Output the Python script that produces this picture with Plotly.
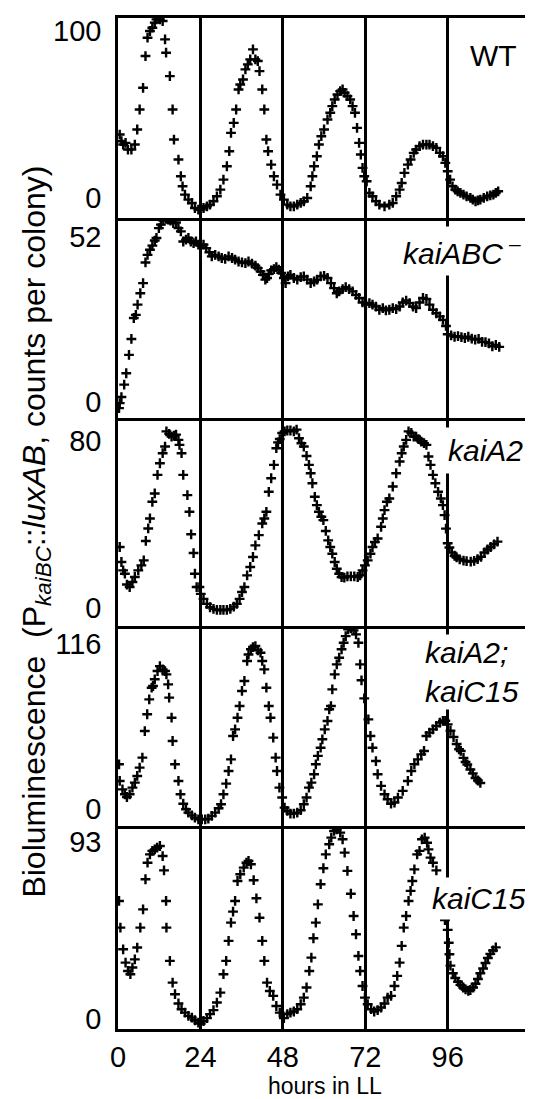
import plotly.graph_objects as go

# ---------------- data (hours in LL, bioluminescence counts per colony) ----------------
wt_h = [0.5,1.0,1.5,2.2,2.9,3.9,4.9,5.6,6.3,7.3,
        8.0,8.6,9.3,10.0,10.7,11.2,12.2,13.0,13.7,14.0,
        15.1,15.9,16.3,17.6,18.3,18.8,19.5,20.5,21.5,22.4,
        23.4,24.1,24.9,25.9,26.8,27.8,28.8,29.8,30.7,31.7,
        32.4,32.9,33.7,34.4,35.1,35.6,36.4,37.1,37.8,38.5,
        39.3,40.0,40.7,41.2,42.0,42.6,43.2,43.7,44.6,45.4,
        46.3,47.3,48.3,49.3,50.2,51.2,52.2,53.2,54.1,55.1,
        56.1,56.6,57.1,57.9,58.5,59.2,60.0,61.0,61.8,62.4,
        63.1,63.9,64.7,65.4,66.0,66.8,67.6,68.3,69.0,69.6,
        70.2,70.7,71.2,71.7,72.4,73.2,74.1,75.1,76.1,77.6,
        79.0,80.0,81.0,82.0,82.6,83.4,84.4,85.2,86.1,86.8,
        87.8,88.8,89.8,90.7,91.7,92.7,93.7,94.6,95.3,96.0,
        96.7,97.4,98.2,98.9,99.7,100.6,101.5,102.6,103.3,104.1,
        104.8,105.5,106.5,107.5,108.4,109.3,110.0,110.7]
wt_v = [38,34,32,33,29,29,32,41,53,66,
        85,96,100,102,105,107,107,106,95,87,
        73,53,35,23,13,7,2,-1,-3,-6,
        -7,-7,-6,-5,-4,-2,1,5,11,19,
        28,39,45,53,65,68,71,77,80,83,
        89,83,82,76,65,53,35,28,20,13,
        8,2,-1,-4,-5,-5,-4,-3,-2,0,
        7,13,19,25,32,37,41,47,51,55,
        59,62,64,65,63,61,59,55,51,42,
        33,26,18,13,10,3,1,-2,-4,-5,
        -4,-3,1,5,9,15,20,23,27,29,
        31,32,32,32,31,30,27,25,21,16,
        11,7,5,4,3,2,1,0,-1,-2,
        -1.5,-1,0,1,1.5,2,3,4]

kabc_h = [0.3,0.5,1.0,1.8,2.4,3.2,3.9,4.6,5.2,5.7,
          6.5,7.3,8.0,8.6,9.3,10.0,10.7,11.2,11.9,12.5,
          13.2,14.0,14.6,15.3,16.1,16.9,17.6,18.3,19.0,19.8,
          20.5,21.2,22.0,22.7,23.4,24.1,24.9,25.7,26.6,27.3,
          28.3,29.3,30.2,31.2,32.2,33.2,34.1,35.1,36.1,37.1,
          38.0,39.0,40.0,40.7,41.5,42.2,42.9,43.4,43.9,44.6,
          45.4,46.1,46.8,47.5,48.3,48.8,49.5,50.2,51.2,52.2,
          53.2,54.1,55.1,56.1,57.1,58.0,59.0,60.0,61.0,62.0,
          62.9,63.7,64.4,65.4,66.3,67.3,68.3,69.3,70.2,71.2,
          72.2,73.2,74.1,75.1,76.1,77.1,78.0,79.0,80.0,81.0,
          82.0,82.9,83.9,84.9,85.9,86.8,87.8,88.8,89.8,90.7,
          91.7,92.7,93.7,94.6,
          95.5,96.0,97.0,98.0,99.0,100.0,
          101.0,102.0,103.0,104.0,105.0,106.0,107.0,108.0,109.0,110.0,
          111.0]
kabc_v = [-1.9,-0.3,1.6,5.5,9.1,14.9,19.9,26.5,27.5,30.7,
          34.3,37.5,44.0,46.4,48.0,49.3,50.9,51.7,54.8,55.9,
          57.2,57.7,57.5,57.2,56.4,56.6,54.8,53.8,50.6,51.2,
          51.7,50.6,50.1,50.6,49.6,49.3,49.6,48.5,47.2,45.9,
          46.4,45.9,45.4,45.1,45.9,45.4,44.9,44.3,44.0,43.8,
          44.3,43.6,43.0,42.2,41.2,40.1,38.6,39.1,40.4,41.5,
          41.9,42.5,41.7,40.7,39.1,37.5,39.6,40.1,39.1,38.6,
          39.4,39.6,38.6,37.5,38.0,38.6,39.6,39.8,39.1,37.5,
          35.9,34.3,34.9,35.6,36.2,35.6,34.9,33.8,32.8,31.4,
          30.7,31.2,30.7,30.1,29.1,29.6,28.9,29.1,29.6,29.3,
          30.1,31.4,32.0,31.2,30.1,29.6,31.4,32.8,32.5,30.7,
          29.1,28.0,27.0,25.9,
          24.0,21.4,21.0,20.6,20.8,20.5,
          20.2,20.6,20.0,19.7,19.9,19.0,18.9,18.5,17.6,18.0,
          17.4]

ka2_h = [0.5,1.0,1.5,2.0,2.6,3.4,4.2,4.9,5.9,6.8,
         7.5,8.1,8.8,9.3,10.0,10.7,11.5,12.2,13.0,13.7,
         14.1,14.9,15.6,16.3,16.9,17.6,17.9,18.5,19.0,20.2,
         20.8,21.3,22.0,22.4,22.9,23.7,24.1,24.9,25.9,26.8,
         27.8,28.8,29.8,30.7,31.7,32.7,33.7,34.6,35.4,36.1,
         36.8,37.6,38.5,39.3,40.0,41.0,42.0,42.6,43.2,43.9,
         44.6,45.4,46.1,46.6,47.1,47.8,48.5,49.3,50.2,51.2,
         52.0,52.7,53.4,54.1,54.9,55.6,56.1,56.6,57.3,57.9,
         58.5,59.2,59.8,60.5,61.2,61.8,62.4,63.1,63.7,64.4,
         65.1,65.9,66.8,67.8,68.8,69.8,70.5,71.2,71.9,72.7,
         73.5,74.1,74.8,75.6,76.6,77.1,77.6,78.3,79.0,80.0,
         81.0,82.0,82.6,83.2,83.9,84.6,85.4,86.1,86.8,87.5,
         88.3,89.1,89.8,90.4,91.0,91.7,92.4,93.2,94.0,94.6,
         95.1,
         95.5,96.0,96.5,97.2,98.0,98.6,99.5,100.6,101.5,102.7,
         103.7,104.7,105.7,106.7,107.6,108.5,109.5,110.5]
ka2_v = [29.2,22.0,18.0,16.4,11.2,10.0,12.4,14.8,18.0,20.4,
         22.8,32.1,38.1,42.9,50.9,54.9,63.8,69.4,74.2,77.4,
         84.7,83.5,82.2,82.6,83.1,80.6,78.2,74.2,63.8,54.1,
         46.1,35.3,26.3,16.4,10.0,10.0,6.7,4.3,1.9,0.3,
         -0.5,-1.0,-1.0,-1.0,-1.0,-0.5,0.6,1.9,4.3,7.6,
         10.0,15.6,19.6,24.4,30.0,34.9,40.5,42.9,46.1,55.7,
         62.2,68.6,76.6,79.4,81.0,83.9,84.7,85.1,85.1,84.7,
         85.5,81.4,79.0,77.4,72.9,68.6,64.6,59.8,53.3,49.3,
         46.1,43.7,42.1,36.9,32.4,29.2,26.0,22.0,18.8,16.4,
         14.8,14.5,15.1,15.1,15.1,14.8,15.6,18.0,20.4,22.8,
         26.0,29.2,31.6,33.3,38.9,42.9,46.9,50.9,52.5,58.2,
         64.6,70.2,74.2,77.4,80.6,84.7,83.9,82.2,82.2,81.0,
         79.8,79.0,78.2,72.6,68.6,63.8,59.8,55.7,52.5,49.3,
         44.5,
         38,31,29,26.5,25,24.2,23.3,22.7,22.4,22.2,
         22.5,23.4,24.5,26.6,28,29.2,30.5,31.8]

ka2c15_h = [0.3,0.5,1.3,2.0,2.6,3.4,4.2,4.9,5.6,6.3,
            7.1,7.8,8.5,9.1,9.8,10.2,10.7,11.5,12.2,13.0,
            13.7,14.1,14.6,14.9,15.6,15.9,16.6,17.6,18.2,19.0,
            19.8,20.5,21.5,22.4,23.4,24.4,25.4,26.3,27.3,28.3,
            29.3,30.0,30.7,31.5,32.2,32.9,33.5,34.1,34.8,35.4,
            36.1,36.8,37.6,38.0,38.7,39.3,40.0,40.7,41.5,42.0,
            42.6,43.2,43.9,44.4,45.2,45.9,46.3,47.0,47.8,48.5,
            49.3,50.2,51.2,52.2,53.2,54.1,54.9,55.6,56.3,57.1,
            57.6,58.2,59.0,59.5,60.2,61.0,61.5,62.0,62.4,63.1,
            63.7,64.4,65.1,65.7,66.3,67.0,67.8,68.6,69.3,70.0,
            70.5,70.9,71.7,72.9,73.5,74.1,75.1,75.6,76.6,77.6,
            78.5,79.5,80.5,81.5,82.9,84.4,85.4,86.3,87.3,88.3,
            89.1,89.8,90.7,91.7,92.7,93.7,94.6,
            95.3,96.0,96.8,97.7,98.6,99.3,99.8,100.6,101.2,101.7,
            102.6,103.3,104.1,104.8,105.5]
ka2c15_v = [31.4,19.7,13.8,10.3,8.4,10.3,15.0,18.5,23.2,29.1,
            36.1,54.8,66.6,77.1,85.3,86.5,91.2,97.0,100.5,98.2,
            97.0,94.7,87.6,78.3,64.2,47.8,31.4,19.7,10.3,3.7,
            -0.2,-2.6,-4.5,-6.1,-7.3,-7.3,-7.3,-6.8,-4.9,-2.6,
            0.5,3.3,10.3,17.8,26.7,34.9,51.3,56.0,64.2,72.4,
            83.0,90.0,104.1,108.7,112.3,113.9,114.6,111.6,109.9,104.1,
            98.2,85.3,72.4,64.2,50.2,36.1,26.7,15.0,8.0,0.9,
            -1.4,-3.3,-3.3,-2.6,-0.9,3.3,8.0,15.0,18.5,24.4,
            31.4,37.3,43.1,49.0,56.0,61.9,70.1,72.4,84.1,94.7,
            101.7,106.4,112.3,116.9,121.6,126.3,127.0,125.6,122.8,116.9,
            101.7,90.5,77.8,63.0,51.3,43.1,33.7,24.4,16.2,10.3,
            6.8,3.7,4.5,8.0,12.7,19.7,26.7,31.4,34.9,38.4,
            40.8,51.3,53.7,56.0,58.4,60.7,61.9,
            62,59.5,55,50.6,45.7,42,40.8,35.9,33,31.3,
            27.7,25,21.8,20,18.3]

kc15_h = [0.3,0.7,1.5,2.2,2.9,3.6,4.2,4.9,5.6,6.5,
          7.3,8.0,8.6,9.3,10.0,10.7,11.4,12.2,13.0,13.4,
          14.0,14.1,15.1,15.9,16.6,17.6,18.5,19.5,20.5,21.5,
          22.4,23.4,24.1,24.9,25.9,26.8,27.8,28.8,29.8,30.7,
          31.5,32.2,32.9,33.5,34.1,34.8,35.6,36.6,37.4,38.0,
          38.7,39.5,40.3,41.2,42.0,42.6,43.4,44.2,45.2,46.1,
          47.1,48.3,49.3,50.2,51.2,52.2,53.2,54.1,54.9,55.7,
          56.3,56.9,57.6,58.2,59.0,59.8,60.5,61.5,62.1,62.9,
          63.7,64.7,65.4,66.0,66.8,67.8,68.6,69.3,70.0,70.5,
          71.2,71.9,72.7,73.7,74.6,75.6,76.6,77.6,78.5,79.5,
          80.5,81.3,82.0,82.6,83.2,83.9,84.6,85.2,85.7,86.3,
          87.1,87.8,88.5,89.3,90.0,90.4,91.0,91.7,92.7,
          93.5,94.3,95.2,96.0,96.3,96.5,96.8,97.5,98.2,99.0,
          99.7,100.5,101.2,102.0,102.6,103.4,104.1,104.8,105.5,106.3,
          107.0,107.7,108.4,109.2,110.0]
kc15_v = [62.0,48.0,36.6,29.6,25.2,23.5,27.0,31.3,37.5,48.0,
          57.6,73.4,82.1,86.5,88.3,89.1,90.0,90.9,85.6,78.1,
          62.0,48.0,30.5,19.1,13.0,8.1,5.1,3.3,1.6,0.7,
          -0.7,-1.9,-2.5,-1.1,0.4,2.5,4.6,8.6,13.8,23.5,
          30.5,41.0,50.6,56.4,62.0,72.5,76.0,79.5,82.1,83.0,
          81.3,72.9,63.4,53.2,41.0,30.5,19.1,14.7,12.1,6.8,
          3.3,0.4,2.5,3.3,3.9,5.1,7.7,11.2,16.5,25.2,
          32.2,42.4,50.6,60.2,70.8,79.2,86.5,91.8,95.3,98.8,
          99.6,97.9,94.4,87.4,77.8,65.8,54.1,44.5,33.1,25.2,
          17.3,11.2,7.7,5.1,3.9,4.6,6.0,8.1,11.2,12.1,
          17.3,22.6,29.6,38.4,48.0,54.1,62.0,67.3,72.5,78.6,
          86.5,88.3,94.4,95.3,92.6,89.1,84.8,82.1,78.1,
          70,60,52,46.8,40,34,28,24,21.5,19.5,
          17.9,16.5,15.5,14.8,15.2,16.5,18.5,21,24,26.5,
          29.4,32,34.2,36,37.6]

series_h = [wt_h, kabc_h, ka2_h, ka2c15_h, kc15_h]
series_v = [wt_v, kabc_v, ka2_v, ka2c15_v, kc15_v]
panel_labels = ["WT", "<i>kaiABC</i><sup> \u2013</sup>", "<i>kaiA2</i>",
                "<i>kaiA2;</i><br><i>kaiC15</i>", "<i>kaiC15</i>"]
y_top_ticks = [100, 52, 80, 116, 93]
y_ranges = [[-12, 107.8], [-5.0, 58.0], [-8.7, 91.1], [-12.0, 128.7], [-5.3, 101.4]]
x_ticks = [0, 24, 48, 72, 96]

# ---------------- figure ----------------
W, H = 533, 1099
ML, MR, MT, MB = 110, 1, 10, 78
panel_px = [(10, 210), (210, 410), (410, 618), (618, 818), (818, 1021)]
ph = H - MT - MB
FONT = "Liberation Sans, Arial, Helvetica, sans-serif"

fig = go.Figure()
layout = dict(width=W, height=H, margin=dict(l=ML, r=MR, t=MT, b=MB),
              paper_bgcolor="white", plot_bgcolor="white", showlegend=False,
              font=dict(family=FONT, color="black"))

for i in range(5):
    n = i + 1
    xs = "x" if n == 1 else f"x{n}"
    ys = "y" if n == 1 else f"y{n}"
    fig.add_trace(go.Scatter(
        x=series_h[i], y=series_v[i], mode="markers", xaxis=xs, yaxis=ys,
        marker=dict(symbol="cross-thin", size=7, color="black",
                    line=dict(width=2.4, color="black")),
        hoverinfo="skip"))
    top, bot = panel_px[i]
    dom = [(H - MB - bot) / ph, (H - MB - top) / ph]
    layout["xaxis" if n == 1 else f"xaxis{n}"] = dict(
        domain=[0, 1], anchor=ys, range=[0, 122], tickvals=x_ticks,
        showgrid=True, gridcolor="black", gridwidth=2.5, zeroline=False,
        showline=True, mirror=(n == 1), linecolor="black", linewidth=2.5,
        showticklabels=(n == 5), ticks="",
        tickfont=dict(size=29, family=FONT, color="black"))
    layout["yaxis" if n == 1 else f"yaxis{n}"] = dict(
        domain=dom, anchor=xs, range=y_ranges[i], tickvals=[0, y_top_ticks[i]],
        ticktext=["0", str(y_top_ticks[i])],
        showgrid=False, zeroline=False, showline=True, mirror=True,
        linecolor="black", linewidth=2.5, ticks="outside", ticklen=8,
        tickcolor="rgba(0,0,0,0)",
        tickfont=dict(size=29, family=FONT, color="black"))

fig.update_layout(**layout)

def px2paper(px, py):
    return (px - ML) / (W - ML - MR), (H - MB - py) / ph

label_pos = [(488, 47, 3), (456, 243, 5), (480, 442, 6), (467, 664, 1), (474, 890, 4)]
for i, (lx, ly, pad) in enumerate(label_pos):
    ax_, ay_ = px2paper(lx, ly)
    fig.add_annotation(x=ax_, y=ay_, xref="paper", yref="paper", text=panel_labels[i],
                       showarrow=False, xanchor="center", yanchor="middle", align="left",
                       bgcolor="white", borderpad=pad,
                       font=dict(size=30, family=FONT, color="black"))

tx, ty = px2paper(27, 524)
fig.add_annotation(x=tx, y=ty, xref="paper", yref="paper", textangle=-90,
                   text="Bioluminescence  (P<sub><i>kaiBC</i></sub>::<i>luxAB</i>, counts per colony)",
                   showarrow=False, xanchor="center", yanchor="middle",
                   font=dict(size=32, family=FONT, color="black"))
hx, hy = px2paper(318, 1078)
fig.add_annotation(x=hx, y=hy, xref="paper", yref="paper", text="hours in LL",
                   showarrow=False, xanchor="center", yanchor="middle",
                   font=dict(size=23, family=FONT, color="black"))

fig.write_html("out.html")
